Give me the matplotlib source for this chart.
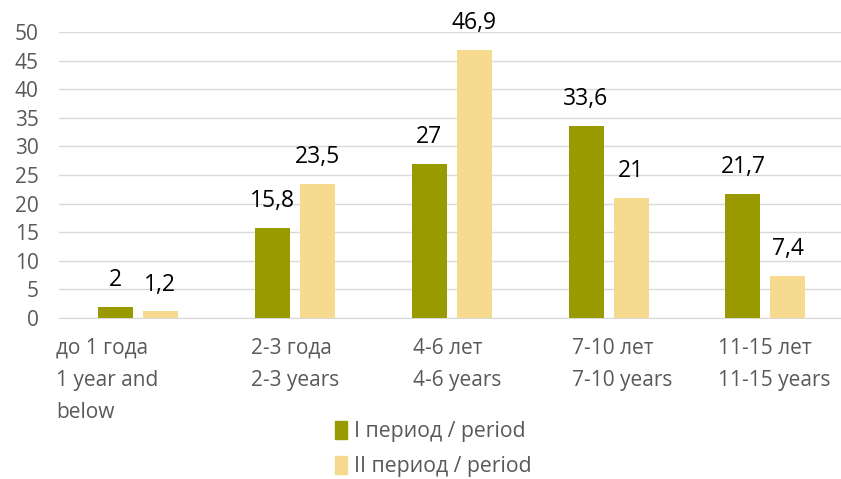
import numpy as np
import matplotlib.pyplot as plt
from matplotlib.patches import Patch
from matplotlib.transforms import ScaledTranslation

plt.rcParams['font.family'] = ['Open Sans', 'DejaVu Sans']

categories = ['до 1 года\n1 year and\nbelow', '2-3 года\n2-3 years', '4-6 лет\n4-6 years',
              '7-10 лет\n7-10 years', '11-15 лет\n11-15 years']
period_1 = [2, 15.8, 27, 33.6, 21.7]
period_2 = [1.2, 23.5, 46.9, 21, 7.4]
labels_1 = ['2', '15,8', '27', '33,6', '21,7']
labels_2 = ['1,2', '23,5', '46,9', '21', '7,4']
series_names = ['I период / period', 'II период / period']
# small horizontal nudges (points) so the wrapped labels sit like the original
label_nudge = [-22, 0, 4, 10, 6]

green = '#999900'
yellow = '#F6DA8F'

fig = plt.figure(figsize=(8.41, 4.79), dpi=100)
ax = fig.add_axes([0.0707, 0.336, 0.929, 0.597])

x = np.arange(len(categories))
w = 0.223
off = (w + 0.064) / 2
b1 = ax.bar(x - off, period_1, w, color=green, zorder=3)
b2 = ax.bar(x + off, period_2, w, color=yellow, zorder=3)

for bars, labs in [(b1, labels_1), (b2, labels_2)]:
    for rect, lab in zip(bars, labs):
        ax.annotate(lab, (rect.get_x() + rect.get_width() / 2, rect.get_height()),
                    xytext=(0, 10.5), textcoords='offset points', ha='center', va='bottom',
                    fontsize=16.5, color='black', annotation_clip=False)

ax.set_xlim(-0.5, len(categories) - 0.52)
ax.set_ylim(0, 50)
ax.set_yticks(range(0, 51, 5))
ax.yaxis.grid(True, color='#D9D9D9', linewidth=1, zorder=0)
ax.set_axisbelow(True)
for s in ['top', 'right', 'left']:
    ax.spines[s].set_visible(False)
ax.spines['bottom'].set_color('#D9D9D9')
ax.tick_params(axis='y', length=0, pad=15, labelsize=15, labelcolor='#595959')
ax.tick_params(axis='x', length=0, pad=14, labelsize=15, labelcolor='#595959')
ax.set_xticks(x)
ax.set_xticklabels(categories, ha='center', multialignment='left', linespacing=1.7)
for t, dx in zip(ax.get_xticklabels(), label_nudge):
    t.set_transform(t.get_transform() + ScaledTranslation(dx / 72, 0, fig.dpi_scale_trans))

handles = [Patch(color=green), Patch(color=yellow)]
leg = fig.legend(handles, series_names, loc='center', bbox_to_anchor=(0.515, 0.062),
                 frameon=False, fontsize=15.3, handlelength=0.6, handleheight=0.9,
                 handletextpad=0.3, labelspacing=0.66)
for t in leg.get_texts():
    t.set_color('#595959')

fig.savefig('out.png', dpi=100)
